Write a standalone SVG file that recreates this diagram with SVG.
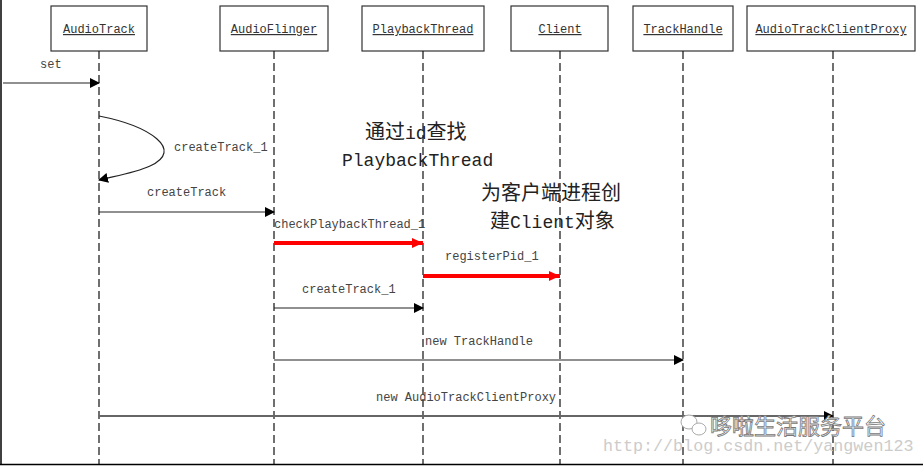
<svg xmlns="http://www.w3.org/2000/svg" width="923" height="466" viewBox="0 0 923 466">
<defs>
<style>
.box{fill:#fff;stroke:#333;stroke-width:1.2}
.name{font-family:"Liberation Mono","Noto Sans CJK SC",monospace;font-size:12px;fill:#333;text-decoration:underline;text-anchor:middle}
.life{stroke:#111;stroke-width:1.2;stroke-dasharray:8 4;fill:none}
.msg{font-family:"Liberation Mono","Noto Sans CJK SC",monospace;font-size:12px;fill:#444}
.note{font-family:"Liberation Mono","Noto Sans CJK SC",monospace;font-size:18px;fill:#222}
.cjk{font-family:"Noto Sans CJK SC",sans-serif;font-size:20px}
.ln{stroke:#222;stroke-width:1.2;fill:none}
.red{stroke:#f00;stroke-width:4;fill:none}
</style>
<marker id="ab" markerWidth="10" markerHeight="10" refX="9" refY="5" orient="auto" markerUnits="userSpaceOnUse">
<path d="M0,0 L10,5 L0,10 Z" fill="#000"/>
</marker>
<marker id="ar" markerWidth="12" markerHeight="12" refX="11" refY="6" orient="auto" markerUnits="userSpaceOnUse">
<path d="M0,1 L11,6 L0,11 Z" fill="#f00"/>
</marker>
</defs>
<rect width="923" height="466" fill="#fff"/>
<line x1="1" y1="0" x2="1" y2="465" stroke="#000" stroke-width="1.5"/>
<line x1="0" y1="464.5" x2="923" y2="464.5" stroke="#000" stroke-width="1.5"/>

<g id="AudioTrack"><rect class="box" x="51" y="6" width="96" height="45"/><text class="name" x="99" y="33">AudioTrack</text><line class="life" x1="99" y1="51" x2="99" y2="464"/></g>
<g id="AudioFlinger"><rect class="box" x="220" y="6" width="108" height="45"/><text class="name" x="274" y="33">AudioFlinger</text><line class="life" x1="274" y1="51" x2="274" y2="464"/></g>
<g id="PlaybackThread"><rect class="box" x="362" y="6" width="122" height="45"/><text class="name" x="423" y="33">PlaybackThread</text><line class="life" x1="423" y1="51" x2="423" y2="464"/></g>
<g id="Client"><rect class="box" x="511" y="6" width="97" height="45"/><text class="name" x="560" y="33">Client</text><line class="life" x1="560" y1="51" x2="560" y2="464"/></g>
<g id="TrackHandle"><rect class="box" x="633" y="6" width="100" height="45"/><text class="name" x="683" y="33">TrackHandle</text><line class="life" x1="683" y1="51" x2="683" y2="464"/></g>
<g id="AudioTrackClientProxy"><rect class="box" x="747" y="6" width="168" height="45"/><text class="name" x="831" y="33">AudioTrackClientProxy</text><line class="life" x1="833" y1="51" x2="833" y2="464" stroke="#777"/></g>

<g id="connectors">
<line class="ln" x1="3" y1="83" x2="99" y2="83" marker-end="url(#ab)"/>
<text class="msg" x="40" y="68">set</text>
<path class="ln" d="M99,116 C150,126 185,150 150,166 C135,173 115,176 99,180" marker-end="url(#ab)"/>
<text class="msg" x="174" y="151">createTrack_1</text>
<line class="ln" x1="99" y1="212" x2="274" y2="212" marker-end="url(#ab)"/>
<text class="msg" x="147" y="196">createTrack</text>
<line class="red" x1="274" y1="243" x2="423" y2="243" marker-end="url(#ar)"/>
<text class="msg" x="274" y="228">checkPlaybackThread_1</text>
<line class="red" x1="423" y1="276" x2="560" y2="276" marker-end="url(#ar)"/>
<text class="msg" x="445" y="260">registerPid_1</text>
<line class="ln" x1="274" y1="308" x2="423" y2="308" marker-end="url(#ab)"/>
<text class="msg" x="302" y="293">createTrack_1</text>
<line class="ln" x1="274" y1="360" x2="683" y2="360" marker-end="url(#ab)"/>
<text class="msg" x="425" y="345">new TrackHandle</text>
<line x1="99" y1="416" x2="833" y2="416" stroke="#666" stroke-width="2" marker-end="url(#ab)"/>
<text class="msg" x="376" y="401">new AudioTrackClientProxy</text>
</g>

<text class="note" x="365" y="139"><tspan class="cjk">通过</tspan>id<tspan class="cjk">查找</tspan></text>
<text class="note" x="342" y="166">PlaybackThread</text>
<text class="note" x="481" y="200"><tspan class="cjk">为客户端进程创</tspan></text>
<text class="note" x="490" y="228"><tspan class="cjk">建</tspan>Client<tspan class="cjk">对象</tspan></text>

<g id="watermark">
<ellipse cx="689" cy="422" rx="8" ry="7" fill="#fff" stroke="#aaa" stroke-width="1"/>
<ellipse cx="699" cy="429" rx="7" ry="6" fill="#fff" stroke="#aaa" stroke-width="1"/>
<text x="710" y="434" font-family="'Noto Sans CJK SC',sans-serif" font-size="22" fill="#fff" stroke="#777" stroke-width="0.8">哆啦生活服务平台</text>
<text x="603" y="451" font-family="'Liberation Mono','Noto Sans CJK SC',monospace" font-size="16.7" fill="#ccc">http://blog.csdn.net/yangwen123</text>
</g>
</svg>
